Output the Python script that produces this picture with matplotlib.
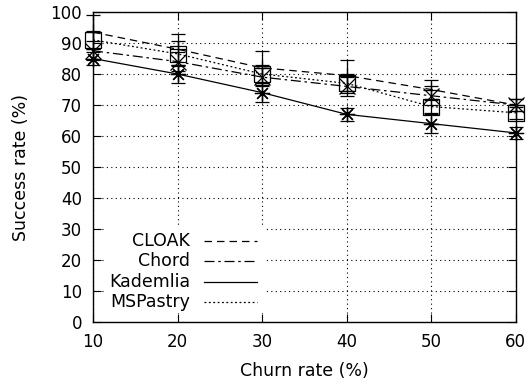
import numpy as np
import matplotlib.pyplot as plt
from matplotlib.lines import Line2D
from matplotlib.patches import Rectangle

churn = [10, 20, 30, 40, 50, 60]

cloak = [93.5, 88, 82, 79.5, 75, 70]
cloak_err = [5.5, 5, 5.5, 5, 3, 2]
chord = [87.5, 84, 79, 76, 73, 70]
chord_err = [3, 3, 3, 3, 3, 2]
kademlia = [85, 80, 74, 67, 64, 61]
kademlia_err = [2, 3, 3, 2, 3, 2]
mspastry = [91, 86.5, 80, 77, 69.5, 67.5]
mspastry_err = [3, 4, 3, 3, 2, 2]

names = ['CLOAK', 'Chord', 'Kademlia', 'MSPastry']
styles = [(0, (6, 4)), (0, (8, 3, 2, 3)), '-', (0, (1.5, 2))]
markers = ['+', 'x', (8, 2, 0), 's']

plt.rcParams['font.family'] = 'DejaVu Sans'
plt.rcParams['font.size'] = 12

fig = plt.figure(figsize=(5.29, 3.88), dpi=100)
ax = fig.add_axes([0.176, 0.170, 0.799, 0.799])

series = [(cloak, cloak_err), (chord, chord_err), (kademlia, kademlia_err), (mspastry, mspastry_err)]
for (vals, err), ls, mk in zip(series, styles, markers):
    ax.errorbar(churn, vals, yerr=err, color='black', linestyle=ls, linewidth=0.9,
                marker=mk, markersize=11, markerfacecolor='none', markeredgewidth=0.9,
                ecolor='black', elinewidth=0.9, capsize=5, capthick=0.9, clip_on=False,
                zorder=3)

ax.set_xlim(10, 60)
ax.set_ylim(0, 100)
ax.set_xticks(churn)
ax.set_yticks(np.arange(0, 101, 10))
ax.set_axisbelow(True)
ax.grid(True, color='black', linestyle=(0, (1, 3)), linewidth=0.8)
ax.tick_params(direction='in', length=6, top=True, right=True, pad=8)
for s in ax.spines.values():
    s.set_linewidth(1.0)
    s.set_zorder(4)

ax.set_xlabel('Churn rate (%)', labelpad=8, fontsize=12.5)
ax.set_ylabel('Success rate (%)', labelpad=15, fontsize=12.5)

# legend: white box over the grid, text right aligned, sample to the right
ax.add_patch(Rectangle((0.03, 0.03), 0.375, 0.272, transform=ax.transAxes,
                       facecolor='white', edgecolor='none', zorder=2))
for i, (name, ls) in enumerate(zip(names, styles)):
    y = 0.262 - i * 0.066
    ax.text(0.230, y, name, transform=ax.transAxes, ha='right', va='center',
            fontsize=12.5, zorder=3)
    ax.add_line(Line2D([0.262, 0.387], [y, y], transform=ax.transAxes, color='black',
                       linestyle=ls, linewidth=0.9, zorder=3))

fig.savefig('out.png', dpi=100)
